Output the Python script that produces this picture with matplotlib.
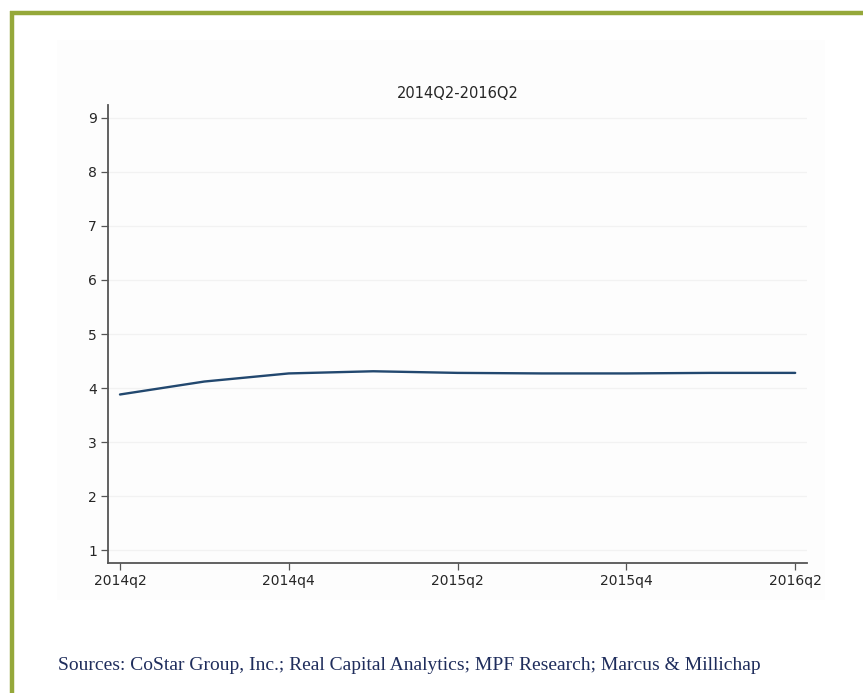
import matplotlib
matplotlib.use("Agg")
import matplotlib.pyplot as plt
from matplotlib.lines import Line2D

# Quarterly series, 2014Q2 - 2016Q2
quarters = ["2014q2", "2014q3", "2014q4", "2015q1", "2015q2",
            "2015q3", "2015q4", "2016q1", "2016q2"]
values = [3.88, 4.12, 4.27, 4.31, 4.28, 4.27, 4.27, 4.28, 4.28]
tick_labels = ["2014q2", "2014q4", "2015q2", "2015q4", "2016q2"]
y_ticks = [1, 2, 3, 4, 5, 6, 7, 8, 9]
title = "2014Q2-2016Q2"
source = ("Sources: CoStar Group, Inc.; Real Capital Analytics; "
          "MPF Research; Marcus & Millichap")

W, H = 863, 693
fig = plt.figure(figsize=(W / 100, H / 100), dpi=100, facecolor="white")

# faint plot-region backdrop
fig.patches.append(plt.Rectangle((57 / W, 1 - 600 / H), (825 - 57) / W, (600 - 40) / H,
                                 transform=fig.transFigure, facecolor="#fdfdfd",
                                 edgecolor="none", zorder=-5))

ax = fig.add_axes([108 / W, 1 - 563 / H, (807 - 108) / W, (563 - 105) / H])
ax.set_facecolor("none")
ax.set_zorder(2)

x = list(range(len(quarters)))
ax.plot(x, values, color="#22486f", lw=1.7, solid_capstyle="round", zorder=3)

ax.set_xlim(-0.142, 8.14)
ax.set_ylim(0.76, 9.24)
ax.set_yticks(y_ticks)
ax.set_yticklabels([str(v) for v in y_ticks])
ax.set_xticks([quarters.index(t) for t in tick_labels])
ax.set_xticklabels(tick_labels)

for v in y_ticks:
    ax.axhline(v, color="#f2f2f2", lw=0.9, zorder=1)

for s in ["top", "right"]:
    ax.spines[s].set_visible(False)
for s in ["left", "bottom"]:
    ax.spines[s].set_color("#555555")
    ax.spines[s].set_linewidth(1.3)

ax.tick_params(axis="both", length=5, width=0.9, color="#555555",
               labelsize=10, labelcolor="#262626", pad=3)
for lab in ax.get_xticklabels() + ax.get_yticklabels():
    lab.set_family("DejaVu Sans")

fig.text(458 / W, 1 - 93 / H, title, ha="center", va="center",
         fontsize=10.5, color="#262626", family="DejaVu Sans")

# green frame on the top and left edges
green = "#95a83a"
fig.add_artist(Line2D([10 / W, 1], [1 - 13 / H, 1 - 13 / H], color=green, lw=3.2,
                      transform=fig.transFigure, solid_capstyle="butt"))
fig.add_artist(Line2D([12 / W, 12 / W], [1 - 11 / H, 0], color=green, lw=3.2,
                      transform=fig.transFigure, solid_capstyle="butt"))

fig.text(58 / W, 1 - 665 / H, source, ha="left", va="center",
         fontsize=14, color="#1f2d5c", family="Liberation Serif")

fig.savefig("out.png", dpi=100, facecolor="white")
